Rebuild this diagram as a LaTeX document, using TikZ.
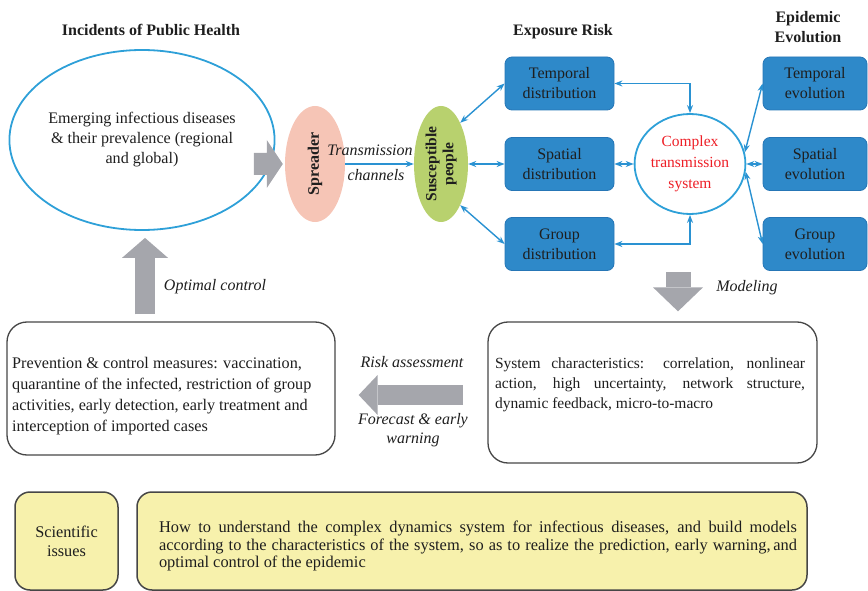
\documentclass[tikz,border=0pt]{standalone}
\usepackage{fontspec}
\setmainfont{Liberation Serif}
\usetikzlibrary{shapes.geometric,arrows.meta,calc}

\definecolor{linkblue}{RGB}{42,146,210}
\definecolor{boxblue}{RGB}{46,137,201}
\definecolor{boxedge}{RGB}{38,118,182}
\definecolor{ringblue}{RGB}{46,160,216}
\definecolor{spreaderfill}{RGB}{246,197,182}
\definecolor{peoplefill}{RGB}{184,209,110}
\definecolor{arrowgray}{RGB}{165,166,172}
\definecolor{noteyellow}{RGB}{247,241,172}
\definecolor{alertred}{RGB}{238,30,38}
\definecolor{inkdark}{RGB}{30,30,30}
\definecolor{edgegray}{RGB}{70,70,70}

\newcommand{\bodyfont}{\fontsize{16.1}{20}\selectfont}

\begin{document}
\begin{tikzpicture}[x=1pt,y=-1pt,
  every node/.style={text=inkdark},
  heading/.style={font=\bfseries\fontsize{16}{20}\selectfont, align=center},
  note/.style={font=\itshape\fontsize{16}{19}\selectfont, align=center},
  bluebox/.style={draw=boxedge, fill=boxblue, rounded corners=7pt, line width=0.8pt,
    minimum width=109pt, minimum height=53pt, inner sep=0pt, align=center,
    font=\fontsize{16}{20}\selectfont},
  roundbox/.style={draw=edgegray, line width=1.3pt, rounded corners=20pt},
  yellowbox/.style={draw=edgegray, fill=noteyellow, line width=1.5pt, rounded corners=15pt,
    minimum height=98pt},
  link/.style={draw=linkblue, line width=1.4pt,
    {Stealth[length=8pt,width=6pt]}-{Stealth[length=8pt,width=6pt]}},
  onelink/.style={draw=linkblue, line width=1.4pt, -{Stealth[length=8pt,width=6pt]}},
  fatarrow/.style={draw=arrowgray}
]
\useasboundingbox (0,0) rectangle (868,591);

% headings
\node[heading] (t1) at (151,30) {Incidents of Public Health};
\node[heading] (t2) at (563,32) {Exposure Risk};
\node[heading] (t3) at (808,27) {Epidemic\\Evolution};

% source of the outbreak
\node[ellipse, draw=ringblue, line width=1.8pt, minimum width=220pt, minimum height=180pt,
  inner sep=0pt, align=center, font=\bodyfont] (ell) at (142,140)
  {Emerging infectious diseases\\\& their prevalence (regional\\and global)};

\node[ellipse, fill=spreaderfill, minimum width=60pt, minimum height=116pt, inner sep=0pt,
  font=\bfseries\fontsize{16}{18}\selectfont] (spr) at (315,164) {\rotatebox{90}{Spreader}};

\node[ellipse, fill=peoplefill, minimum width=54pt, minimum height=116pt, inner sep=0pt,
  font=\bfseries\fontsize{15.5}{19}\selectfont] (sp) at (441,164)
  {\rotatebox{90}{\begin{tabular}{@{}c@{}}Susceptible\\[-2pt]people\end{tabular}}};

\node[ellipse, draw=ringblue, fill=white, line width=1.8pt, minimum width=84pt,
  minimum height=100pt, inner sep=0pt, align=center, text=alertred,
  font=\fontsize{15.5}{21}\selectfont] (cts) at (690,164) {Complex\\transmission\\system};

% exposure risk
\node[bluebox] (td) at (559.5,83.5) {Temporal\\distribution};
\node[bluebox] (sd) at (559.5,164) {Spatial\\distribution};
\node[bluebox] (gd) at (559.5,244) {Group\\distribution};

% epidemic evolution
\node[bluebox, minimum width=104pt] (te) at (815,83.5) {Temporal\\evolution};
\node[bluebox, minimum width=104pt] (se) at (815,164) {Spatial\\evolution};
\node[bluebox, minimum width=104pt] (ge) at (815,244) {Group\\evolution};

% transmission links
\draw[onelink] (spr.east) -- (sp.west);
\node[note] (tr1) at (370,150) {Transmission};
\node[note] (tr2) at (376,175) {channels};

\draw[link] (sp.65) -- (td.west);
\draw[link] (sp.east) -- (sd.west);
\draw[link] (sp.-65) -- (gd.west);
\draw[link] (td.east) -| (cts.north);
\draw[link] (sd.east) -- (cts.west);
\draw[link] (gd.east) -| (cts.south);
\draw[link] (cts.12) -- (te.west);
\draw[link] (cts.east) -- (se.west);
\draw[link] (cts.-8) -- (ge.west);

% lower boxes
\node[roundbox, minimum width=328pt, minimum height=133pt] (prev) at (171,388.5) {};
\node[anchor=west, align=left, inner sep=0pt, font=\fontsize{16.2}{21}\selectfont] (prevtext) at (12,396)
  {Prevention \& control measures: vaccination,\\quarantine of the infected, restriction of group\\activities, early detection, early treatment and\\interception of imported cases};

\node[roundbox, minimum width=329pt, minimum height=141pt] (sys) at (652.5,392.5) {};
\node[text width=310pt, align=justify, inner sep=0pt, font=\fontsize{15.5}{20}\selectfont] (systext) at (650,385)
  {System characteristics: correlation, nonlinear\linebreak action, high uncertainty, network structure,\linebreak dynamic feedback, micro-to-macro};

% block arrows between the stages
\coordinate (oc) at (145,0);
\coordinate (mtop) at (678,272);
\coordinate (fa) at (463,395);
\fill[arrowgray] ($(spr.west)+(-31,-11)$) -- ++(13,0) -- ++(0,-13) -- ($(spr.west)+(-2,0)$)
  -- ($(spr.west)+(-18,24)$) -- ++(0,-13) -- ++(-13,0) -- cycle;
\draw[fatarrow, line width=20pt, shorten <=7pt, shorten >=7pt,
  -{Triangle[width=46pt,length=20pt,line width=0pt,fill=arrowgray]}] (prev.north -| oc) -- (ell.south -| oc);
\draw[fatarrow, line width=25pt, shorten >=10pt,
  -{Triangle[width=50pt,length=24pt,line width=0pt,fill=arrowgray]}] (mtop) -- (sys.north -| mtop);
\draw[fatarrow, line width=20pt, shorten >=23pt,
  -{Triangle[width=40pt,length=19pt,line width=0pt,fill=arrowgray]}] (fa) -- (prev.east |- fa);

\node[note] (oclabel) at (215,287) {Optimal control};
\node[note] (mlabel) at (747,288) {Modeling};
\node[note] (rlabel) at (412,362) {Risk assessment};
\node[note] (flabel) at (413,430) {Forecast \& early\\warning};

% scientific issues
\node[yellowbox, minimum width=103pt, align=center, font=\fontsize{16.3}{19}\selectfont] (sci) at (66.5,541) {Scientific\\issues};
\node[yellowbox, minimum width=670pt] (issue) at (472,541) {};
\node[text width=638pt, align=justify, inner sep=0pt, font=\fontsize{16.4}{17.5}\selectfont] (issuetext) at (478,546)
  {How to understand the complex dynamics system for infectious diseases, and build models\linebreak according to the characteristics of the system, so as to realize the prediction, early warning,\,and\linebreak optimal control of the epidemic};
\end{tikzpicture}
\end{document}
